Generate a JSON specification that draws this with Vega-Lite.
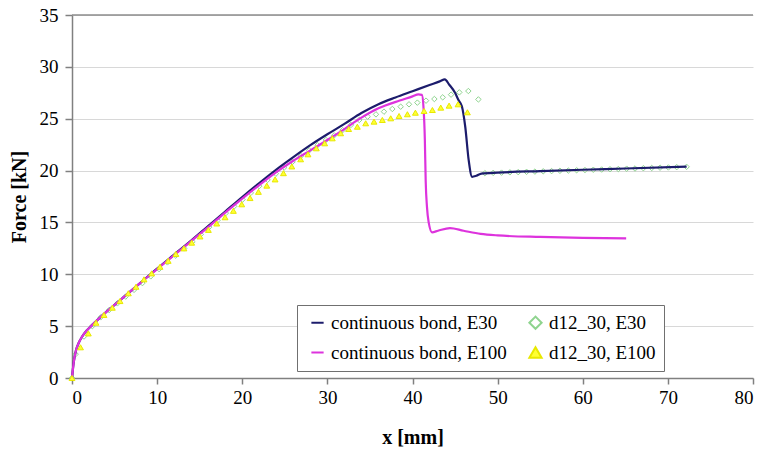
{
  "$schema": "https://vega.github.io/schema/vega-lite/v6.json",
  "width": 681,
  "height": 363,
  "autosize": {"type": "none"},
  "padding": {"left": 72, "top": 15, "right": 12, "bottom": 75},
  "background": "white",
  "config": {
    "view": {"stroke": null},
    "font": "Liberation Serif",
    "axis": {
      "labelFont": "Liberation Serif",
      "labelFontSize": 19,
      "labelColor": "#000000",
      "titleFont": "Liberation Serif",
      "titleFontSize": 20,
      "titleFontWeight": "bold",
      "titleColor": "#000000",
      "domainColor": "#808080",
      "domainWidth": 1.5,
      "tickColor": "#808080",
      "tickWidth": 1.5
    },
    "legend": {
      "labelFont": "Liberation Serif",
      "labelFontSize": 19,
      "labelColor": "#000000"
    }
  },
  "datasets": {
    "d": [
      {"s": "continuous bond, E30", "x": 0, "y": 0},
      {"s": "continuous bond, E30", "x": 0.2, "y": 1.5},
      {"s": "continuous bond, E30", "x": 0.45, "y": 2.6},
      {"s": "continuous bond, E30", "x": 0.8, "y": 3.4},
      {"s": "continuous bond, E30", "x": 1.2, "y": 4.0},
      {"s": "continuous bond, E30", "x": 1.7, "y": 4.55},
      {"s": "continuous bond, E30", "x": 2.3, "y": 5.05},
      {"s": "continuous bond, E30", "x": 3, "y": 5.6},
      {"s": "continuous bond, E30", "x": 4, "y": 6.35},
      {"s": "continuous bond, E30", "x": 5, "y": 7.05},
      {"s": "continuous bond, E30", "x": 6, "y": 7.75},
      {"s": "continuous bond, E30", "x": 8, "y": 9.15},
      {"s": "continuous bond, E30", "x": 10, "y": 10.55},
      {"s": "continuous bond, E30", "x": 12, "y": 11.9},
      {"s": "continuous bond, E30", "x": 14, "y": 13.25},
      {"s": "continuous bond, E30", "x": 16, "y": 14.65},
      {"s": "continuous bond, E30", "x": 18, "y": 16.05},
      {"s": "continuous bond, E30", "x": 20, "y": 17.45},
      {"s": "continuous bond, E30", "x": 22, "y": 18.8},
      {"s": "continuous bond, E30", "x": 24, "y": 20.1},
      {"s": "continuous bond, E30", "x": 26, "y": 21.3},
      {"s": "continuous bond, E30", "x": 28, "y": 22.45},
      {"s": "continuous bond, E30", "x": 30, "y": 23.5},
      {"s": "continuous bond, E30", "x": 32, "y": 24.5},
      {"s": "continuous bond, E30", "x": 34, "y": 25.55},
      {"s": "continuous bond, E30", "x": 36, "y": 26.4},
      {"s": "continuous bond, E30", "x": 38, "y": 27.05},
      {"s": "continuous bond, E30", "x": 40, "y": 27.65},
      {"s": "continuous bond, E30", "x": 42, "y": 28.25},
      {"s": "continuous bond, E30", "x": 43.2, "y": 28.6},
      {"s": "continuous bond, E30", "x": 43.8, "y": 28.8},
      {"s": "continuous bond, E30", "x": 44.3, "y": 28.3},
      {"s": "continuous bond, E30", "x": 45, "y": 27.5},
      {"s": "continuous bond, E30", "x": 45.4, "y": 26.8},
      {"s": "continuous bond, E30", "x": 45.8, "y": 26.2},
      {"s": "continuous bond, E30", "x": 46.2, "y": 24.2},
      {"s": "continuous bond, E30", "x": 46.6, "y": 21.0},
      {"s": "continuous bond, E30", "x": 47.0, "y": 19.4},
      {"s": "continuous bond, E30", "x": 47.5, "y": 19.5},
      {"s": "continuous bond, E30", "x": 48.1, "y": 19.7},
      {"s": "continuous bond, E30", "x": 50, "y": 19.8},
      {"s": "continuous bond, E30", "x": 55, "y": 19.95},
      {"s": "continuous bond, E30", "x": 60, "y": 20.08},
      {"s": "continuous bond, E30", "x": 65, "y": 20.2},
      {"s": "continuous bond, E30", "x": 72.2, "y": 20.38},

      {"s": "continuous bond, E100", "x": 0, "y": 0},
      {"s": "continuous bond, E100", "x": 0.2, "y": 1.5},
      {"s": "continuous bond, E100", "x": 0.45, "y": 2.6},
      {"s": "continuous bond, E100", "x": 0.8, "y": 3.4},
      {"s": "continuous bond, E100", "x": 1.2, "y": 4.0},
      {"s": "continuous bond, E100", "x": 1.7, "y": 4.55},
      {"s": "continuous bond, E100", "x": 2.3, "y": 5.05},
      {"s": "continuous bond, E100", "x": 3, "y": 5.6},
      {"s": "continuous bond, E100", "x": 4, "y": 6.35},
      {"s": "continuous bond, E100", "x": 5, "y": 7.05},
      {"s": "continuous bond, E100", "x": 6, "y": 7.75},
      {"s": "continuous bond, E100", "x": 8, "y": 9.15},
      {"s": "continuous bond, E100", "x": 10, "y": 10.5},
      {"s": "continuous bond, E100", "x": 12, "y": 11.85},
      {"s": "continuous bond, E100", "x": 14, "y": 13.2},
      {"s": "continuous bond, E100", "x": 16, "y": 14.55},
      {"s": "continuous bond, E100", "x": 18, "y": 15.95},
      {"s": "continuous bond, E100", "x": 20, "y": 17.3},
      {"s": "continuous bond, E100", "x": 22, "y": 18.6},
      {"s": "continuous bond, E100", "x": 24, "y": 19.85},
      {"s": "continuous bond, E100", "x": 26, "y": 20.95},
      {"s": "continuous bond, E100", "x": 28, "y": 21.95},
      {"s": "continuous bond, E100", "x": 30, "y": 22.95},
      {"s": "continuous bond, E100", "x": 32, "y": 24.0},
      {"s": "continuous bond, E100", "x": 34, "y": 25.1},
      {"s": "continuous bond, E100", "x": 36, "y": 26.0},
      {"s": "continuous bond, E100", "x": 38.5, "y": 26.75},
      {"s": "continuous bond, E100", "x": 40, "y": 27.15},
      {"s": "continuous bond, E100", "x": 40.7, "y": 27.35},
      {"s": "continuous bond, E100", "x": 41.1, "y": 27.3},
      {"s": "continuous bond, E100", "x": 41.3, "y": 26.0},
      {"s": "continuous bond, E100", "x": 41.45, "y": 23.0},
      {"s": "continuous bond, E100", "x": 41.55, "y": 19.0},
      {"s": "continuous bond, E100", "x": 41.7, "y": 16.5},
      {"s": "continuous bond, E100", "x": 41.9, "y": 15.0},
      {"s": "continuous bond, E100", "x": 42.3, "y": 14.05},
      {"s": "continuous bond, E100", "x": 43.0, "y": 14.2},
      {"s": "continuous bond, E100", "x": 44.4, "y": 14.45},
      {"s": "continuous bond, E100", "x": 46, "y": 14.2},
      {"s": "continuous bond, E100", "x": 48, "y": 13.9},
      {"s": "continuous bond, E100", "x": 50, "y": 13.75},
      {"s": "continuous bond, E100", "x": 55, "y": 13.6},
      {"s": "continuous bond, E100", "x": 60, "y": 13.52},
      {"s": "continuous bond, E100", "x": 65.1, "y": 13.47},

      {"s": "d12_30, E30", "x": 0, "y": 0},
      {"s": "d12_30, E30", "x": 0.43, "y": 2.3},
      {"s": "d12_30, E30", "x": 1.41, "y": 4.0},
      {"s": "d12_30, E30", "x": 2.39, "y": 5.0},
      {"s": "d12_30, E30", "x": 3.37, "y": 5.85},
      {"s": "d12_30, E30", "x": 4.35, "y": 6.55},
      {"s": "d12_30, E30", "x": 5.33, "y": 7.2},
      {"s": "d12_30, E30", "x": 6.31, "y": 7.85},
      {"s": "d12_30, E30", "x": 7.29, "y": 8.5},
      {"s": "d12_30, E30", "x": 8.27, "y": 9.15},
      {"s": "d12_30, E30", "x": 9.25, "y": 9.8},
      {"s": "d12_30, E30", "x": 10.23, "y": 10.5},
      {"s": "d12_30, E30", "x": 11.21, "y": 11.15},
      {"s": "d12_30, E30", "x": 12.19, "y": 11.8},
      {"s": "d12_30, E30", "x": 13.17, "y": 12.5},
      {"s": "d12_30, E30", "x": 14.15, "y": 13.15},
      {"s": "d12_30, E30", "x": 15.13, "y": 13.85},
      {"s": "d12_30, E30", "x": 16.11, "y": 14.55},
      {"s": "d12_30, E30", "x": 17.09, "y": 15.2},
      {"s": "d12_30, E30", "x": 18.07, "y": 15.9},
      {"s": "d12_30, E30", "x": 19.05, "y": 16.55},
      {"s": "d12_30, E30", "x": 20.03, "y": 17.2},
      {"s": "d12_30, E30", "x": 21.01, "y": 17.85},
      {"s": "d12_30, E30", "x": 21.99, "y": 18.5},
      {"s": "d12_30, E30", "x": 22.97, "y": 19.1},
      {"s": "d12_30, E30", "x": 23.95, "y": 19.7},
      {"s": "d12_30, E30", "x": 24.93, "y": 20.3},
      {"s": "d12_30, E30", "x": 25.91, "y": 20.85},
      {"s": "d12_30, E30", "x": 26.89, "y": 21.4},
      {"s": "d12_30, E30", "x": 27.87, "y": 21.95},
      {"s": "d12_30, E30", "x": 28.85, "y": 22.45},
      {"s": "d12_30, E30", "x": 29.83, "y": 22.95},
      {"s": "d12_30, E30", "x": 30.81, "y": 23.4},
      {"s": "d12_30, E30", "x": 31.79, "y": 23.9},
      {"s": "d12_30, E30", "x": 32.77, "y": 24.4},
      {"s": "d12_30, E30", "x": 33.75, "y": 24.88},
      {"s": "d12_30, E30", "x": 34.73, "y": 25.2},
      {"s": "d12_30, E30", "x": 35.71, "y": 25.42},
      {"s": "d12_30, E30", "x": 36.65, "y": 25.68},
      {"s": "d12_30, E30", "x": 37.63, "y": 25.94},
      {"s": "d12_30, E30", "x": 38.61, "y": 26.16},
      {"s": "d12_30, E30", "x": 39.59, "y": 26.39},
      {"s": "d12_30, E30", "x": 40.57, "y": 26.55},
      {"s": "d12_30, E30", "x": 41.59, "y": 26.74},
      {"s": "d12_30, E30", "x": 42.57, "y": 26.9},
      {"s": "d12_30, E30", "x": 43.55, "y": 27.06},
      {"s": "d12_30, E30", "x": 44.53, "y": 27.32},
      {"s": "d12_30, E30", "x": 45.5, "y": 27.54},
      {"s": "d12_30, E30", "x": 46.56, "y": 27.67},
      {"s": "d12_30, E30", "x": 47.74, "y": 26.86},
      {"s": "d12_30, E30", "x": 48.5, "y": 19.75},
      {"s": "d12_30, E30", "x": 49.48, "y": 19.78},
      {"s": "d12_30, E30", "x": 50.46, "y": 19.8},
      {"s": "d12_30, E30", "x": 51.44, "y": 19.83},
      {"s": "d12_30, E30", "x": 52.42, "y": 19.85},
      {"s": "d12_30, E30", "x": 53.4, "y": 19.88},
      {"s": "d12_30, E30", "x": 54.38, "y": 19.9},
      {"s": "d12_30, E30", "x": 55.36, "y": 19.93},
      {"s": "d12_30, E30", "x": 56.34, "y": 19.95},
      {"s": "d12_30, E30", "x": 57.32, "y": 19.98},
      {"s": "d12_30, E30", "x": 58.3, "y": 20.0},
      {"s": "d12_30, E30", "x": 59.28, "y": 20.03},
      {"s": "d12_30, E30", "x": 60.26, "y": 20.05},
      {"s": "d12_30, E30", "x": 61.24, "y": 20.08},
      {"s": "d12_30, E30", "x": 62.22, "y": 20.1},
      {"s": "d12_30, E30", "x": 63.2, "y": 20.13},
      {"s": "d12_30, E30", "x": 64.18, "y": 20.15},
      {"s": "d12_30, E30", "x": 65.16, "y": 20.18},
      {"s": "d12_30, E30", "x": 66.14, "y": 20.2},
      {"s": "d12_30, E30", "x": 67.12, "y": 20.23},
      {"s": "d12_30, E30", "x": 68.1, "y": 20.25},
      {"s": "d12_30, E30", "x": 69.08, "y": 20.28},
      {"s": "d12_30, E30", "x": 70.06, "y": 20.3},
      {"s": "d12_30, E30", "x": 71.04, "y": 20.33},
      {"s": "d12_30, E30", "x": 72.2, "y": 20.36},

      {"s": "d12_30, E100", "x": 0, "y": 0},
      {"s": "d12_30, E100", "x": 1.0, "y": 2.96},
      {"s": "d12_30, E100", "x": 1.92, "y": 4.3},
      {"s": "d12_30, E100", "x": 2.82, "y": 5.33},
      {"s": "d12_30, E100", "x": 3.76, "y": 6.08},
      {"s": "d12_30, E100", "x": 4.74, "y": 6.78},
      {"s": "d12_30, E100", "x": 5.64, "y": 7.42},
      {"s": "d12_30, E100", "x": 6.62, "y": 8.17},
      {"s": "d12_30, E100", "x": 7.52, "y": 8.8},
      {"s": "d12_30, E100", "x": 8.46, "y": 9.51},
      {"s": "d12_30, E100", "x": 9.36, "y": 10.09},
      {"s": "d12_30, E100", "x": 10.34, "y": 10.73},
      {"s": "d12_30, E100", "x": 11.3, "y": 11.3},
      {"s": "d12_30, E100", "x": 12.2, "y": 11.96},
      {"s": "d12_30, E100", "x": 13.15, "y": 12.5},
      {"s": "d12_30, E100", "x": 14.06, "y": 13.05},
      {"s": "d12_30, E100", "x": 15.04, "y": 13.65},
      {"s": "d12_30, E100", "x": 16.02, "y": 14.28},
      {"s": "d12_30, E100", "x": 17.0, "y": 14.9},
      {"s": "d12_30, E100", "x": 17.98, "y": 15.5},
      {"s": "d12_30, E100", "x": 18.96, "y": 16.12},
      {"s": "d12_30, E100", "x": 19.94, "y": 16.75},
      {"s": "d12_30, E100", "x": 20.92, "y": 17.35},
      {"s": "d12_30, E100", "x": 21.9, "y": 17.95},
      {"s": "d12_30, E100", "x": 22.88, "y": 18.55},
      {"s": "d12_30, E100", "x": 23.86, "y": 19.15},
      {"s": "d12_30, E100", "x": 24.84, "y": 19.75},
      {"s": "d12_30, E100", "x": 25.82, "y": 20.4},
      {"s": "d12_30, E100", "x": 26.86, "y": 21.09},
      {"s": "d12_30, E100", "x": 27.72, "y": 21.57},
      {"s": "d12_30, E100", "x": 28.7, "y": 22.15},
      {"s": "d12_30, E100", "x": 29.68, "y": 22.63},
      {"s": "d12_30, E100", "x": 30.58, "y": 23.11},
      {"s": "d12_30, E100", "x": 31.56, "y": 23.6},
      {"s": "d12_30, E100", "x": 32.5, "y": 24.01},
      {"s": "d12_30, E100", "x": 33.52, "y": 24.23},
      {"s": "d12_30, E100", "x": 34.5, "y": 24.56},
      {"s": "d12_30, E100", "x": 35.48, "y": 24.72},
      {"s": "d12_30, E100", "x": 36.46, "y": 24.88},
      {"s": "d12_30, E100", "x": 37.44, "y": 25.04},
      {"s": "d12_30, E100", "x": 38.42, "y": 25.26},
      {"s": "d12_30, E100", "x": 39.4, "y": 25.43},
      {"s": "d12_30, E100", "x": 40.34, "y": 25.58},
      {"s": "d12_30, E100", "x": 41.36, "y": 25.75},
      {"s": "d12_30, E100", "x": 42.34, "y": 25.84},
      {"s": "d12_30, E100", "x": 43.32, "y": 26.07},
      {"s": "d12_30, E100", "x": 44.3, "y": 26.26},
      {"s": "d12_30, E100", "x": 45.35, "y": 26.39},
      {"s": "d12_30, E100", "x": 46.45, "y": 25.62}
    ]
  },
  "layer": [
    {
      "data": {"values": [{"top": 35}]},
      "mark": {"type": "rule", "color": "#8c8c8c", "strokeWidth": 1.5},
      "encoding": {
        "y": {
          "field": "top", "type": "quantitative",
          "scale": {"domain": [0, 35], "nice": false},
          "axis": {
            "title": "Force  [kN]", "values": [0, 5, 10, 15, 20, 25, 30, 35],
            "grid": true, "gridColor": "#d8d8d8", "gridWidth": 1,
            "tickSize": 7, "labelPadding": 7, "titlePadding": 10
          }
        }
      }
    },
    {
      "data": {"name": "d"},
      "transform": [{"filter": "datum.s === 'd12_30, E30'"}],
      "mark": {"type": "point", "filled": true, "size": 30, "strokeWidth": 1, "opacity": 1},
      "encoding": {
        "x": {
          "field": "x", "type": "quantitative",
          "scale": {"domain": [0, 80], "nice": false},
          "axis": {
            "title": "x [mm]", "values": [0, 10, 20, 30, 40, 50, 60, 70, 80],
            "grid": false, "tickSize": 6, "labelPadding": 4, "titlePadding": 20
          }
        },
        "y": {"field": "y", "type": "quantitative"},
        "stroke": {"field": "s", "type": "nominal", "title": null,
          "scale": {"domain": ["continuous bond, E30", "d12_30, E30", "continuous bond, E100", "d12_30, E100"],
                    "range": ["#1c1c6c", "#8fd48f", "#dd33dd", "#e8e800"]},
          "legend": {
            "orient": "none", "legendX": 225, "legendY": 290, "columns": 2, "direction": "horizontal",
            "gridAlign": "all", "padding": 8, "rowPadding": 10, "columnPadding": 16, "symbolOffset": 3,
            "strokeColor": "#707070", "fillColor": "#ffffff", "symbolStrokeWidth": 2, "labelLimit": 300,
            "symbolSize": 150
          }
        },
        "fill": {"field": "s", "type": "nominal", "title": null,
          "scale": {"domain": ["continuous bond, E30", "d12_30, E30", "continuous bond, E100", "d12_30, E100"],
                    "range": ["transparent", "transparent", "transparent", "#ffff33"]}},
        "shape": {"field": "s", "type": "nominal", "title": null,
          "scale": {"domain": ["continuous bond, E30", "d12_30, E30", "continuous bond, E100", "d12_30, E100"],
                    "range": ["stroke", "diamond", "stroke", "triangle-up"]}}
      }
    },
    {
      "data": {"name": "d"},
      "transform": [{"filter": "indexof(datum.s, 'continuous') === 0"}],
      "mark": {"type": "line", "strokeWidth": 2.2, "interpolate": "monotone"},
      "encoding": {
        "x": {"field": "x", "type": "quantitative"},
        "y": {"field": "y", "type": "quantitative"},
        "stroke": {"field": "s", "type": "nominal", "title": null,
          "scale": {"domain": ["continuous bond, E30", "d12_30, E30", "continuous bond, E100", "d12_30, E100"],
                    "range": ["#1c1c6c", "#8fd48f", "#dd33dd", "#e8e800"]}}
      }
    },
    {
      "data": {"name": "d"},
      "transform": [{"filter": "datum.s === 'd12_30, E100'"}],
      "mark": {"type": "point", "filled": true, "size": 34, "strokeWidth": 1, "opacity": 1},
      "encoding": {
        "x": {"field": "x", "type": "quantitative"},
        "y": {"field": "y", "type": "quantitative"},
        "stroke": {"field": "s", "type": "nominal", "title": null,
          "scale": {"domain": ["continuous bond, E30", "d12_30, E30", "continuous bond, E100", "d12_30, E100"],
                    "range": ["#1c1c6c", "#8fd48f", "#dd33dd", "#e8e800"]}},
        "fill": {"field": "s", "type": "nominal", "title": null,
          "scale": {"domain": ["continuous bond, E30", "d12_30, E30", "continuous bond, E100", "d12_30, E100"],
                    "range": ["transparent", "transparent", "transparent", "#ffff33"]}},
        "shape": {"field": "s", "type": "nominal", "title": null,
          "scale": {"domain": ["continuous bond, E30", "d12_30, E30", "continuous bond, E100", "d12_30, E100"],
                    "range": ["stroke", "diamond", "stroke", "triangle-up"]}}
      }
    }
  ]
}
